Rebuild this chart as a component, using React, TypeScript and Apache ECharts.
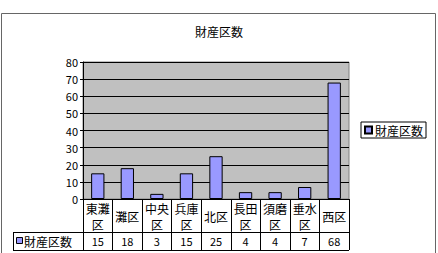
import React, { useEffect, useRef } from "react";
import * as echarts from "echarts";

const categories = ["東灘\n区", "灘区", "中央\n区", "兵庫\n区", "北区", "長田\n区", "須磨\n区", "垂水\n区", "西区"];
const values = [15, 18, 3, 15, 25, 4, 4, 7, 68];
const seriesName = "財産区数";
const titleText = "財産区数";

const FONT = "'Noto Sans CJK JP', 'DejaVu Sans', sans-serif";

export default function App() {
  const ref = useRef<HTMLDivElement>(null);
  useEffect(() => {
    if (!ref.current) return;
    const chart = echarts.init(ref.current, undefined, { renderer: "svg" });
    const gl = 83, gr = 349, gt = 62, gb = 199;
    const row1 = 232, row2 = 250, hdrL = 13;
    chart.setOption({
      animation: false,
      backgroundColor: "#ffffff",
      textStyle: { fontFamily: FONT, color: "#000" },
      title: {
        text: titleText,
        left: "center",
        top: 20,
        textStyle: { fontSize: 12, fontWeight: "normal", color: "#000", fontFamily: FONT },
      },
      legend: {
        data: [seriesName],
        left: 361,
        top: 122,
        orient: "vertical",
        itemWidth: 7,
        itemHeight: 7,
        itemGap: 0,
        padding: [2, 3, 2, 3],
        borderColor: "#000",
        borderWidth: 1,
        icon: "rect",
        textStyle: { fontSize: 12, color: "#000", fontFamily: FONT, padding: [0, 0, 0, -2] },
      },
      grid: {
        left: gl,
        right: 438 - gr,
        top: gt,
        bottom: 253 - gb,
        show: true,
        backgroundColor: "#c0c0c0",
        borderColor: "#808080",
        borderWidth: 1,
      },
      xAxis: [
        {
          type: "category",
          data: categories,
          position: "bottom",
          axisLine: { show: true, lineStyle: { color: "#000", width: 1 } },
          axisTick: { show: true, length: row2 - gb, lineStyle: { color: "#000", width: 1 } },
          axisLabel: {
            interval: 0,
            margin: 17,
            verticalAlign: "middle",
            fontSize: 12,
            lineHeight: 16,
            color: "#000",
            fontFamily: FONT,
          },
        },
        {
          type: "category",
          data: categories,
          position: "bottom",
          offset: row1 - gb,
          axisLine: { show: true, lineStyle: { color: "#000", width: 1 } },
          axisTick: { show: false },
          axisLabel: {
            interval: 0,
            margin: 9,
            verticalAlign: "middle",
            fontSize: 11,
            color: "#000",
            fontFamily: FONT,
            formatter: (_v: string, i: number) => String(values[i]),
          },
        },
      ],
      yAxis: {
        type: "value",
        min: 0,
        max: 80,
        interval: 10,
        axisLine: { show: true, lineStyle: { color: "#000" } },
        axisTick: { show: true, length: 3, lineStyle: { color: "#000" } },
        axisLabel: { fontSize: 11, color: "#000", margin: 5, fontFamily: FONT },
        splitLine: { show: true, lineStyle: { color: "#000", width: 1 } },
      },
      series: [
        {
          name: seriesName,
          type: "bar",
          data: values,
          xAxisIndex: 0,
          barWidth: "45%",
          itemStyle: { color: "#9999ff", borderColor: "#000", borderWidth: 1 },
        },
      ],
      graphic: [
        {
          type: "rect",
          shape: { x: 1.5, y: 13.5, width: 434, height: 260 },
          style: { fill: "none", stroke: "#666", lineWidth: 1 },
          silent: true,
        },
        {
          type: "line",
          shape: { x1: hdrL, y1: row1 + 0.5, x2: gl, y2: row1 + 0.5 },
          style: { stroke: "#000", lineWidth: 1 },
        },
        {
          type: "line",
          shape: { x1: hdrL, y1: row2 + 0.5, x2: gr, y2: row2 + 0.5 },
          style: { stroke: "#000", lineWidth: 1 },
        },
        {
          type: "line",
          shape: { x1: hdrL + 0.5, y1: row1, x2: hdrL + 0.5, y2: row2 },
          style: { stroke: "#000", lineWidth: 1 },
        },
        {
          type: "rect",
          shape: { x: 16.5, y: 237.5, width: 6, height: 6 },
          style: { fill: "#9999ff", stroke: "#000", lineWidth: 1 },
        },
        {
          type: "text",
          x: 24,
          y: 241,
          style: {
            text: seriesName,
            fontSize: 12,
            fontFamily: FONT,
            fill: "#000",
            verticalAlign: "middle",
            align: "left",
          },
        },
      ],
    });
    return () => chart.dispose();
  }, []);
  return (
    <div
      ref={ref}
      style={{ position: "fixed", left: 0, top: 0, width: 438, height: 253 }}
    />
  );
}
